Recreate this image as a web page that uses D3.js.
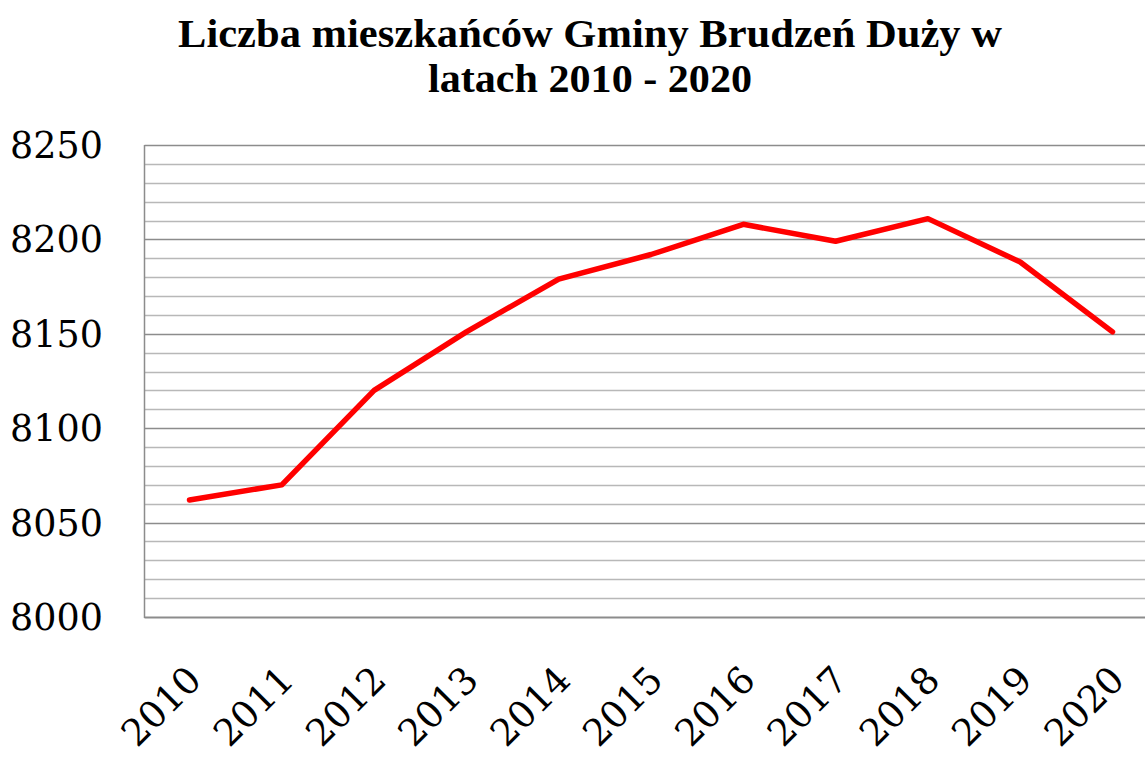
<!DOCTYPE html>
<html>
<head>
<meta charset="utf-8">
<script src="https://cdn.jsdelivr.net/npm/d3@7"></script>
<style>
  body { margin: 0; background: #fff; }
  svg { display: block; }
</style>
</head>
<body>
<svg id="svgRoot" width="1145" height="758"></svg>
<script>
// data
const years = ["2010", "2011", "2012", "2013", "2014", "2015", "2016", "2017", "2018", "2019", "2020"]
const residents = [8062, 8070, 8120, 8151, 8179, 8192, 8208, 8199, 8211, 8188, 8151]
const yTicks = [8000, 8050, 8100, 8150, 8200, 8250]
const titleLines = ["Liczba mieszkańców Gminy Brudzeń Duży w", "latach 2010 - 2020"]

let svg = d3.select("#svgRoot")
const margin = { top: 145, left: 144.5, bottom: 617, right: 1145 }

let scale_x = d3.scalePoint()
  .domain(years)
  .range([189.5, 1112.5])

let scale_y = d3.scaleLinear()
  .domain([8000, 8250])
  .range([margin.bottom, margin.top])

// gridlines, minor every 10, major every 50
let grid = svg.append("g").attr("class", "g_grid")
grid.selectAll("line")
  .data(d3.range(8010, 8251, 10))
  .enter()
  .append("line")
  .attr("x1", margin.left)
  .attr("x2", margin.right)
  .attr("y1", d => Math.round(scale_y(d)) + 0.5)
  .attr("y2", d => Math.round(scale_y(d)) + 0.5)
  .attr("stroke", d => d % 50 == 0 ? "#8c8c8c" : "#b8b8b8")
  .attr("stroke-width", 1.5)

// axes lines
svg.append("line")
  .attr("x1", margin.left).attr("x2", margin.left)
  .attr("y1", margin.top).attr("y2", margin.bottom + 1)
  .attr("stroke", "#8c8c8c").attr("stroke-width", 1.5)
svg.append("line")
  .attr("x1", margin.left).attr("x2", margin.right)
  .attr("y1", margin.bottom + 0.5).attr("y2", margin.bottom + 0.5)
  .attr("stroke", "#8c8c8c").attr("stroke-width", 2)

// y labels
svg.append("g").selectAll("text")
  .data(yTicks)
  .enter()
  .append("text")
  .attr("x", 103)
  .attr("y", d => scale_y(d) + 13)
  .attr("text-anchor", "end")
  .attr("font-family", "DejaVu Serif, serif")
  .attr("font-size", "36.5px")
  .attr("fill", "#000")
  .text(d => d)

// x labels
svg.append("g").selectAll("text")
  .data(years)
  .enter()
  .append("text")
  .attr("text-anchor", "end")
  .attr("font-family", "DejaVu Serif, serif")
  .attr("font-size", "37px")
  .attr("fill", "#000")
  .attr("transform", d => `translate(${scale_x(d) + 14}, 682) rotate(-45)`)
  .text(d => d)

// line
let line = d3.line()
  .x((d, i) => scale_x(years[i]))
  .y(d => scale_y(d))

svg.append("path")
  .datum(residents)
  .attr("d", line)
  .attr("fill", "none")
  .attr("stroke", "#ff0000")
  .attr("stroke-width", 5.5)
  .attr("stroke-linejoin", "round")
  .attr("stroke-linecap", "round")

// title
const titleWidths = [824, 324]
svg.append("g").selectAll("text")
  .data(titleLines)
  .enter()
  .append("text")
  .attr("x", 590)
  .attr("y", (d, i) => 47 + i * 45)
  .attr("text-anchor", "middle")
  .attr("font-family", "'Liberation Serif', 'Times New Roman', serif")
  .attr("font-weight", "bold")
  .attr("font-size", "39px")
  .attr("textLength", (d, i) => titleWidths[i])
  .attr("lengthAdjust", "spacingAndGlyphs")
  .attr("fill", "#000")
  .text(d => d)
</script>
</body>
</html>
